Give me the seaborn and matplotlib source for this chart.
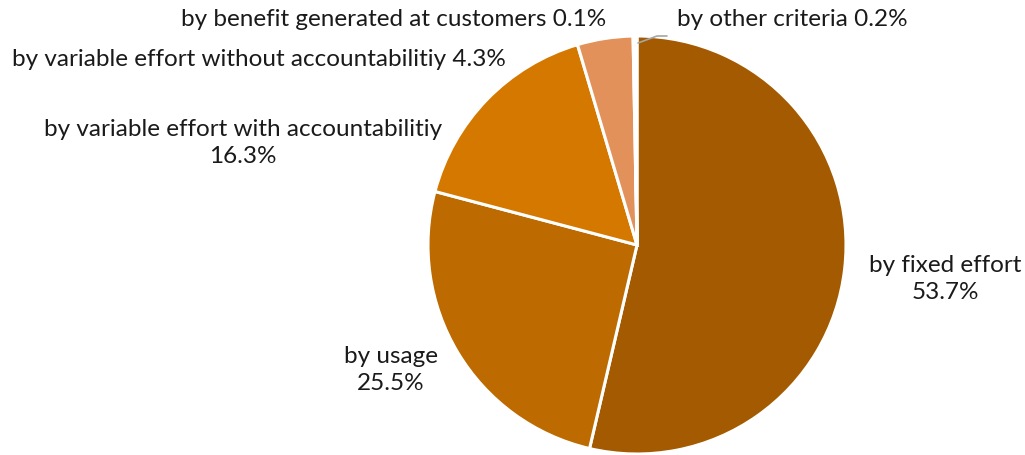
import matplotlib
matplotlib.use("Agg")
import matplotlib.pyplot as plt
import seaborn as sns

categories = [
    "by fixed effort",
    "by usage",
    "by variable effort with accountabilitiy",
    "by variable effort without accountabilitiy",
    "by benefit generated at customers",
    "by other criteria",
]
shares = [53.7, 25.5, 16.3, 4.3, 0.1, 0.2]
colors = ["#A35A00", "#BD6A00", "#D57800", "#E3915A", "#F0C8A0", "#F5DCC0"]

sns.set_theme(style="white")
plt.rcParams["font.family"] = ["Lato", "DejaVu Sans"]

fig = plt.figure(figsize=(10.25, 4.55), dpi=100)
W, H = 1025, 455
cx, cy, r = 637, 245, 209
ax = fig.add_axes([(cx - r) / W, (H - cy - r) / H, 2 * r / W, 2 * r / H])

ax.pie(shares, colors=colors, startangle=90, counterclock=False, radius=1,
       wedgeprops=dict(edgecolor="white", linewidth=2.2))
ax.set_xlim(-1, 1)
ax.set_ylim(-1, 1)
ax.set_aspect("equal")
ax.axis("off")


def to_ax(px, py):
    return (px - cx) / r, (cy - py) / r


label_pos = [(945, 279), (391, 370), (243, 143), (259, 60), (394, 19), (792, 20)]
texts = [
    f"{categories[0]}\n{shares[0]}%",
    f"{categories[1]}\n{shares[1]}%",
    f"{categories[2]}\n{shares[2]}%",
    f"{categories[3]} {shares[3]}%",
    f"{categories[4]} {shares[4]}%",
    f"{categories[5]} {shares[5]}%",
]
for (px, py), t in zip(label_pos, texts):
    x, y = to_ax(px, py)
    ax.text(x, y, t, ha="center", va="center", fontsize=17.5, color="#1a1a1a",
            linespacing=1.3, clip_on=False)

# leader line for the tiny slice
lx, ly = zip(*[to_ax(638, 43), to_ax(657, 36), to_ax(667, 36)])
ax.plot(lx, ly, color="#A6A6A6", lw=1.2, clip_on=False)

fig.savefig("out.png", dpi=100)
plt.close(fig)
